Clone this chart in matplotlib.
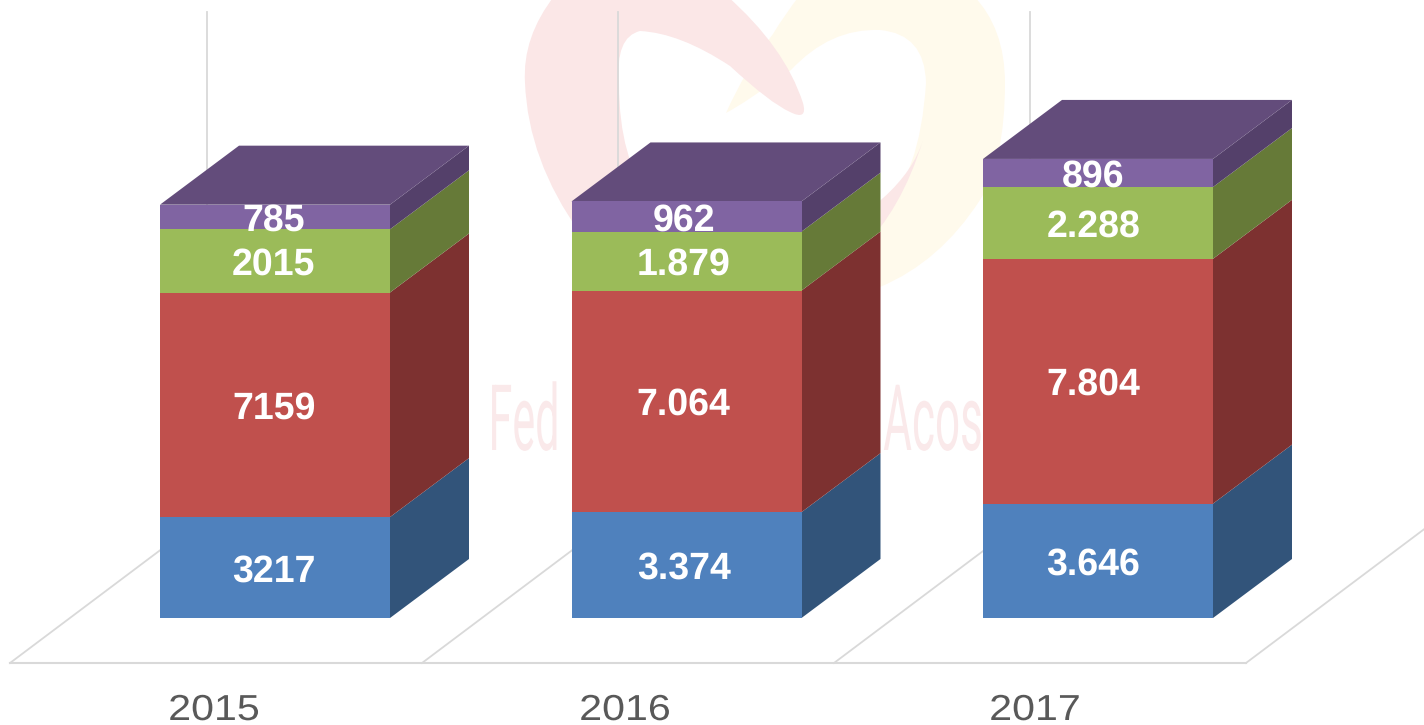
import numpy as np
import matplotlib
matplotlib.use('Agg')
import matplotlib.pyplot as plt
from matplotlib.path import Path
from matplotlib.patches import PathPatch
from matplotlib.transforms import Affine2D
import matplotlib.patheffects as pe

years = ['2015', '2016', '2017']
blue = [3217, 3374, 3646]
red = [7159, 7064, 7804]
green = [2015, 1879, 2288]
purple = [785, 962, 896]
blue_labels = ['3217', '3.374', '3.646']
red_labels = ['7159', '7.064', '7.804']
green_labels = ['2015', '1.879', '2.288']
purple_labels = ['785', '962', '896']

plt.rcParams['font.family'] = ['Liberation Sans', 'DejaVu Sans']
plt.rcParams['text.hinting'] = 'none'


# squeezes or widens text horizontally, mpl text has no letter width option
class StretchX(pe.AbstractPathEffect):
    def __init__(self, sx, x0, dy=0):
        super().__init__()
        self.sx = sx
        self.x0 = x0
        self.dy = dy

    def draw_path(self, renderer, gc, tpath, affine, rgbFace=None):
        shift = Affine2D().translate(-self.x0, 0).scale(self.sx, 1).translate(self.x0, self.dy)
        renderer.draw_path(gc, tpath, affine + shift, rgbFace)


fig = plt.figure(figsize=(14.24, 7.25), dpi=100, facecolor='white')

# background layer in pixels: watermark and floor
bg = fig.add_axes([0, 0, 1, 1])
bg.set_xlim(0, 1424)
bg.set_ylim(725, 0)
bg.axis('off')


def blob(start, pairs, color):
    verts = [start]
    codes = [Path.MOVETO]
    for ctrl, end in pairs:
        verts += [ctrl, end]
        codes += [Path.CURVE3, Path.CURVE3]
    bg.add_patch(PathPatch(Path(verts, codes), fc=color, ec='none', zorder=1))


# yellow part of the logo
blob((726, 113), [((745, 70), (773, 34)), ((785, 14), (800, -5)), ((890, -5), (973, -5)),
                  ((1005, 28), (1005, 83)), ((1005, 160), (980, 200)), ((940, 262), (880, 287)),
                  ((860, 290), (860, 262)), ((870, 234), (880, 213)), ((920, 177), (926, 83)),
                  ((925, 34), (880, 30)), ((830, 28), (791, 70)), ((745, 103), (726, 113))], '#FFFAEC')
# pink part of the logo
blob((555, -5), [((522, 37), (525, 83)), ((528, 160), (580, 233)), ((640, 308), (760, 299)),
                 ((880, 280), (923, 140)), ((905, 200), (800, 252)), ((700, 271), (651, 200)),
                 ((619, 159), (619, 84)), ((615, 37), (640, 31)), ((680, 33), (730, 66)),
                 ((770, 103), (790, 112)), ((808, 121), (803, 103)), ((785, 47), (726, -5)),
                 ((640, -5), (555, -5))], '#FBE7E7')

# anchored on the centre so the squeeze works around the middle of the word
for x, s, sx in [(524, 'Fed', 0.47), (933, 'Acos', 0.48)]:
    bg.text(x, 450, s, fontsize=66, color='#FAE9EA', ha='center', va='baseline', zorder=2,
            family=['Roboto', 'DejaVu Sans'], path_effects=[StretchX(sx, x)])

grid_color = '#D9D9D9'
bg.plot([10, 1246], [663, 663], color=grid_color, lw=1.5, zorder=3)
for x0 in [10, 422, 834, 1246]:
    bg.plot([x0, x0 + 197], [663, 663 - 148], color=grid_color, lw=1.3, zorder=3)
for x0 in [207, 618, 1030]:
    bg.plot([x0, x0], [12, 515], color=grid_color, lw=1.3, zorder=3)

# the chart itself, value axis scaled so bars land on the reference pixels
ax = fig.add_axes([0, 0, 1, 1])
ax.patch.set_alpha(0)
x_scale = 411.5
y_scale = 0.03137
ax.set_xlim(-275 / x_scale, (1424 - 275) / x_scale)
ax.set_ylim(-(725 - 618) / y_scale, 618 / y_scale)
ax.axis('off')

x = np.arange(len(years))
width = 230 / x_scale
dx = 79 / x_scale
dy = 59 / y_scale

series = [blue, red, green, purple]
labels = [blue_labels, red_labels, green_labels, purple_labels]
front = ['#4F81BD', '#C0504D', '#9BBB59', '#8064A2']
side = ['#32547A', '#7D3130', '#667A38', '#54406A']
top_color = '#634C7B'

bottom = np.zeros(len(years))
for vals, labs, fc, sc in zip(series, labels, front, side):
    vals = np.array(vals)
    ax.bar(x, vals, width, bottom=bottom, color=fc, zorder=5)
    for i in x:
        xr = i + width / 2
        ax.fill([xr, xr + dx, xr + dx, xr],
                [bottom[i], bottom[i] + dy, bottom[i] + vals[i] + dy, bottom[i] + vals[i]],
                color=sc, lw=0, zorder=4)
        ax.text(i - 0.004 * i - 0.003, bottom[i] + vals[i] / 2, labs[i], color='white',
                fontsize=27, fontweight='bold', ha='center', va='center_baseline', zorder=6)
    bottom = bottom + vals

for i in x:
    xl = i - width / 2
    xr = i + width / 2
    ax.fill([xl, xr, xr + dx, xl + dx],
            [bottom[i], bottom[i], bottom[i] + dy, bottom[i] + dy],
            color=top_color, lw=0, zorder=4)

# year labels, widened a bit since the reference has letter spacing
for i, year in enumerate(years):
    px = [214, 625, 1035][i]
    ax.text((px - 275) / x_scale, -(717 - 618) / y_scale, year, color='#595959', fontsize=26,
            ha='center', va='baseline', zorder=6, path_effects=[StretchX(1.14, px, dy=-3)])

fig.savefig('out.png', dpi=100)
